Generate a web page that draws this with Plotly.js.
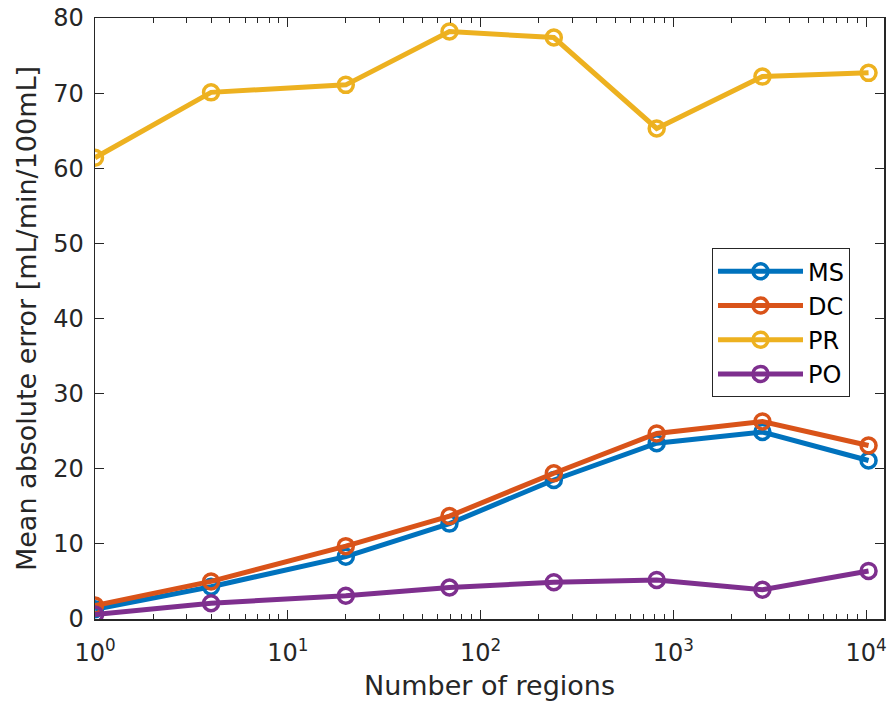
<!DOCTYPE html>
<html>
<head>
<meta charset="utf-8">
<script src="https://cdn.plot.ly/plotly-3.0.1.min.js"></script>
<style>html,body{margin:0;padding:0;background:#fff;}#chart{width:894px;height:705px;}</style>
</head>
<body>
<div id="chart"></div>
<script>
// Data
const regions = [1, 4, 20, 69, 240, 820, 2900, 10300];
const seriesNames = ["MS", "DC", "PR", "PO"];
const MS = [1.3, 4.3, 8.3, 12.7, 18.5, 23.4, 24.9, 21.1];
const DC = [1.8, 5.0, 9.7, 13.7, 19.4, 24.7, 26.3, 23.1];
const PR = [61.4, 70.1, 71.1, 78.2, 77.4, 65.3, 72.2, 72.7];
const PO = [0.6, 2.1, 3.1, 4.2, 4.9, 5.2, 3.9, 6.4];
const xTickVals = [1, 10, 100, 1000, 10000];
const xTickText = ["10<sup>0</sup>", "10<sup>1</sup>", "10<sup>2</sup>", "10<sup>3</sup>", "10<sup>4</sup>"];
const yTickVals = [0, 10, 20, 30, 40, 50, 60, 70, 80];

const colors = ["#0072BD", "#D95319", "#EDB120", "#7E2F8E"];
const values = [MS, DC, PR, PO];

const traces = seriesNames.map((name, i) => ({
  type: "scatter",
  mode: "lines+markers",
  name: name,
  x: regions,
  y: values[i],
  line: {color: colors[i], width: 5},
  marker: {symbol: "circle-open", size: 15, color: colors[i], line: {color: colors[i], width: 3.5}},
  hoverinfo: "skip"
}));

// minor ticks for log axis (2..9 in each decade)
const minorVals = [];
for (let d = 0; d < 5; d++) {
  for (let k = 2; k <= 9; k++) minorVals.push(k * Math.pow(10, d));
}

const axisColor = "#262626";
const layout = {
  width: 894,
  height: 705,
  margin: {l: 95, r: 10, t: 18, b: 86},
  paper_bgcolor: "#ffffff",
  plot_bgcolor: "#ffffff",
  font: {family: "DejaVu Sans", color: axisColor, size: 24},
  showlegend: true,
  legend: {
    x: 0.782, y: 0.617, xanchor: "left", yanchor: "top",
    bgcolor: "#ffffff", bordercolor: axisColor, borderwidth: 1,
    font: {size: 24, color: "#000000"},
    itemwidth: 85,
    tracegroupgap: 0
  },
  xaxis: {
    type: "log",
    range: [0, 4.093],
    tickmode: "array",
    tickvals: xTickVals,
    ticktext: xTickText,
    ticks: "inside",
    ticklen: 9,
    tickwidth: 1,
    tickcolor: axisColor,
    ticklabelstandoff: 12,
    showline: true,
    linecolor: axisColor,
    linewidth: 1.5,
    mirror: "allticks",
    showgrid: false,
    zeroline: false,
    tickfont: {size: 24, color: axisColor},
    minor: {tickmode: "array", tickvals: minorVals, ticks: "inside", ticklen: 5, tickcolor: axisColor, tickwidth: 1, showgrid: false},
    title: {text: "Number of regions", font: {size: 27, color: axisColor}, standoff: 10}
  },
  yaxis: {
    range: [0, 80],
    tickmode: "array",
    tickvals: yTickVals,
    ticks: "inside",
    ticklen: 9,
    tickwidth: 1,
    tickcolor: axisColor,
    ticklabelstandoff: 5,
    showline: true,
    linecolor: axisColor,
    linewidth: 1.5,
    mirror: "allticks",
    showgrid: false,
    zeroline: false,
    tickfont: {size: 24, color: axisColor},
    title: {text: "Mean absolute error [mL/min/100mL]", font: {size: 27, color: axisColor}, standoff: 8}
  }
};

Plotly.newPlot("chart", traces, layout, {displayModeBar: false, staticPlot: true});
</script>
</body>
</html>
